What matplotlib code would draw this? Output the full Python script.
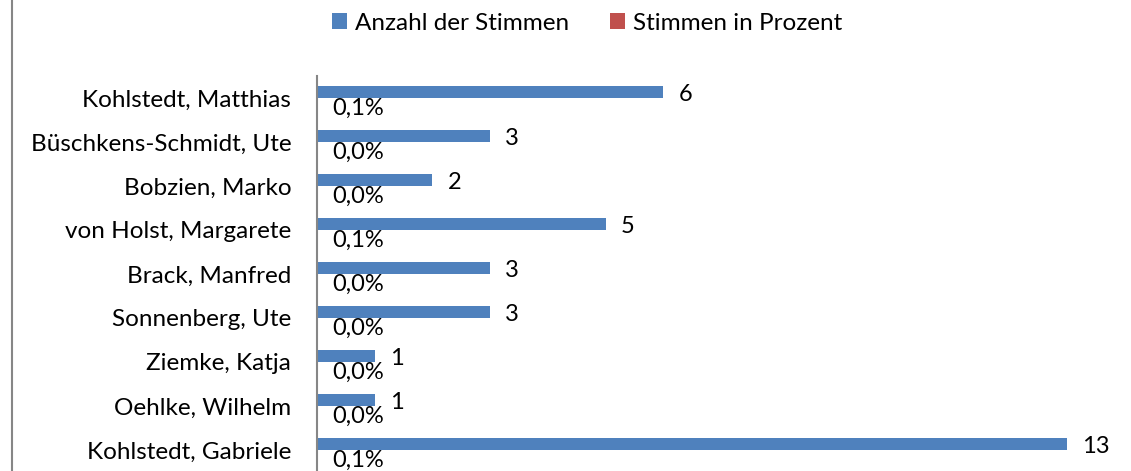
import matplotlib.pyplot as plt
from matplotlib.lines import Line2D

plt.rcParams['font.family'] = ['Lato', 'DejaVu Sans']

# data, top to bottom as shown
names = ['Kohlstedt, Matthias', 'Büschkens-Schmidt, Ute', 'Bobzien, Marko',
         'von Holst, Margarete', 'Brack, Manfred', 'Sonnenberg, Ute',
         'Ziemke, Katja', 'Oehlke, Wilhelm', 'Kohlstedt, Gabriele']
stimmen = [6, 3, 2, 5, 3, 3, 1, 1, 13]
prozent = [0.1, 0.0, 0.0, 0.1, 0.0, 0.0, 0.0, 0.0, 0.1]

blue = '#4F81BD'
red = '#C0504D'

fig = plt.figure(figsize=(11.31, 4.71), dpi=100)
ax = fig.add_axes([317/1131, -1/471, (1125-317)/1131, 396/471])

n = len(names)
pos = [n - 1 - i for i in range(n)]
h = 0.27
b1 = ax.barh([p + h/2 for p in pos], stimmen, height=h, color=blue, label='Anzahl der Stimmen')
b2 = ax.barh([p - h/2 for p in pos], [v/100 for v in prozent], height=h, color=red, label='Stimmen in Prozent')

for rect, v in zip(b1, stimmen):
    ax.annotate(str(v), (rect.get_width(), rect.get_y() + rect.get_height()/2 - 0.05),
                xytext=(15, 0), textcoords='offset pixels', va='center', ha='left', fontsize=17)
for rect, v in zip(b2, prozent):
    ax.annotate(f'{v:.1f}%'.replace('.', ','), (rect.get_width(), rect.get_y() + rect.get_height()/2 - 0.1),
                xytext=(15, 0), textcoords='offset pixels', va='center', ha='left', fontsize=17)

ax.set_xlim(0, 14)
ax.set_ylim(-0.5, n - 0.5)
ax.set_yticks(pos)
ax.set_yticklabels(names, fontsize=17.5)
ax.tick_params(axis='y', length=0, pad=18.5)
ax.set_xticks([])
for s in ['top', 'right', 'bottom']:
    ax.spines[s].set_visible(False)
ax.spines['left'].set_color('#868686')
ax.spines['left'].set_linewidth(1.5)

fig.legend(handles=[b1, b2], loc='center', bbox_to_anchor=(587/1131, 1 - 23/471), ncol=2,
           frameon=False, fontsize=17.5, handlelength=0.62, handleheight=0.62,
           handletextpad=0.33, columnspacing=1.7)

fig.add_artist(Line2D([12/1131, 12/1131], [0, 1], color='#868686', linewidth=1.5,
                      transform=fig.transFigure))

fig.savefig('out.png', dpi=100)
